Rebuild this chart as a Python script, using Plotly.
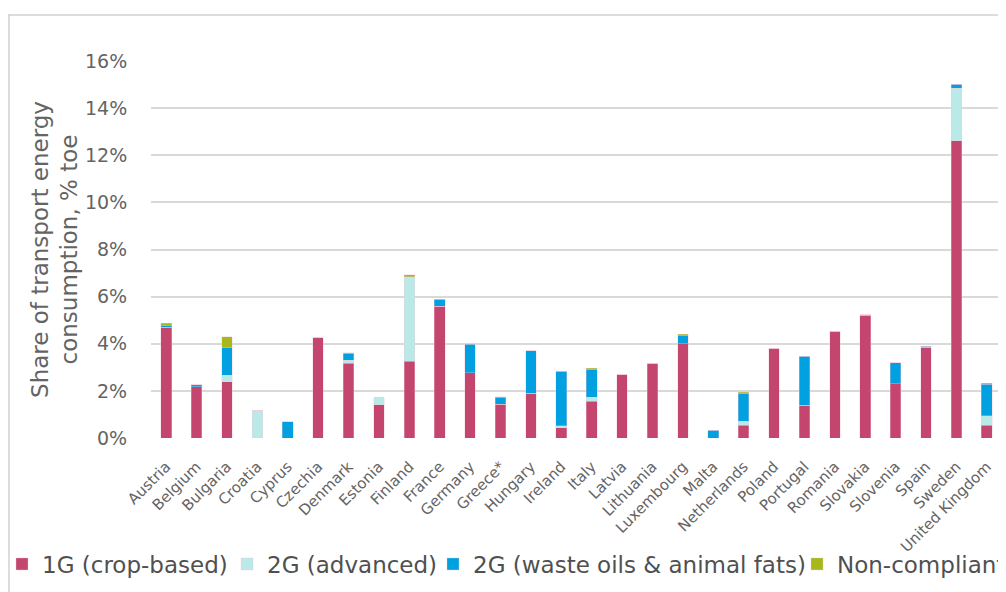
import plotly.graph_objects as go

countries = ["Austria", "Belgium", "Bulgaria", "Croatia", "Cyprus", "Czechia", "Denmark",
             "Estonia", "Finland", "France", "Germany", "Greece*", "Hungary", "Ireland",
             "Italy", "Latvia", "Lithuania", "Luxembourg", "Malta", "Netherlands", "Poland",
             "Portugal", "Romania", "Slovakia", "Slovenia", "Spain", "Sweden", "United Kingdom"]

first_gen = [4.71, 2.17, 2.38, 0.0, 0.0, 4.26, 3.18, 1.42, 3.26, 5.59, 2.78, 1.44, 1.91, 0.44,
             1.55, 2.69, 3.17, 3.99, 0.0, 0.54, 3.81, 1.40, 4.53, 5.20, 2.31, 3.85, 12.61, 0.55]
second_adv = [0.0, 0.0, 0.28, 1.15, 0.0, 0.0, 0.12, 0.28, 3.58, 0.0, 0.0, 0.0, 0.0, 0.09,
              0.17, 0.0, 0.0, 0.0, 0.0, 0.17, 0.0, 0.0, 0.0, 0.0, 0.0, 0.0, 2.23, 0.40]
second_waste = [0.08, 0.10, 1.16, 0.0, 0.68, 0.0, 0.28, 0.0, 0.0, 0.29, 1.19, 0.28, 1.80, 2.30,
                1.20, 0.0, 0.0, 0.37, 0.33, 1.20, 0.0, 2.06, 0.0, 0.04, 0.89, 0.04, 0.18, 1.34]
non_compliant = [0.08, 0.0, 0.48, 0.0, 0.0, 0.0, 0.04, 0.0, 0.08, 0.0, 0.04, 0.03, 0.0, 0.0,
                 0.04, 0.0, 0.0, 0.04, 0.0, 0.04, 0.0, 0.0, 0.0, 0.0, 0.0, 0.0, 0.0, 0.04]

series = [
    ("1G (crop-based)", first_gen, "#C4456E"),
    ("2G (advanced)", second_adv, "#B9EAE8"),
    ("2G (waste oils & animal fats)", second_waste, "#00A0E1"),
    ("Non-compliant", non_compliant, "#A7B81B"),
]

FONT = "DejaVu Sans"
GRAY = "#646464"

W, H = 998, 584
ML, MR, MT, MB = 143, 4, 53, 154
PW = W - ML - MR
PH = H - MT - MB

def px_to_paper_x(px):
    return (px - ML) / PW

def px_to_paper_y(py):
    return (H - MB - py) / PH

legend_left_px = [-6, 219, 425, 789]
legend_names = ["legend", "legend2", "legend3", "legend4"]

fig = go.Figure()
for (name, vals, color), lg in zip(series, legend_names):
    fig.add_trace(go.Bar(
        x=countries, y=vals, name=name, legend=lg,
        marker=dict(color=color, line=dict(color="rgba(240,200,215,0.6)", width=0.6)),
    ))

legend_common = dict(orientation="h", xanchor="left", yanchor="middle",
                     y=px_to_paper_y(556),
                     font=dict(family=FONT, size=23, color="#505050"),
                     itemwidth=30, bgcolor="rgba(0,0,0,0)", borderwidth=0)

layout_legends = {}
for lg, lx in zip(legend_names, legend_left_px):
    layout_legends[lg] = dict(legend_common, x=px_to_paper_x(lx))

fig.update_layout(
    width=W, height=H,
    barmode="stack", bargap=0.65,
    paper_bgcolor="white", plot_bgcolor="white",
    margin=dict(l=ML, r=MR, t=MT, b=MB, autoexpand=False),
    font=dict(family=FONT, color=GRAY),
    showlegend=True,
    **layout_legends,
)

fig.update_yaxes(
    range=[0, 16], dtick=2, ticksuffix="%",
    showgrid=True, gridcolor="#D9D9D9", gridwidth=1.5,
    zeroline=False, showline=False,
    ticks="outside", ticklen=19, tickcolor="rgba(0,0,0,0)",
    tickfont=dict(family=FONT, size=19, color=GRAY),
    title=dict(text="Share of transport energy<br>consumption, % toe",
               font=dict(family=FONT, size=23, color=GRAY), standoff=0),
    automargin=False,
)
fig.update_xaxes(
    tickangle=-45, showline=False, showgrid=False,
    tickfont=dict(family=FONT, size=15, color=GRAY),
    ticks="outside", ticklen=13, tickcolor="rgba(0,0,0,0)",
    automargin=False,
)

# frame border of the surrounding box
fig.add_shape(type="line", xref="paper", yref="paper",
              x0=px_to_paper_x(0), x1=px_to_paper_x(W + 5),
              y0=px_to_paper_y(7), y1=px_to_paper_y(7),
              line=dict(color="#D0D0D0", width=1.5))
fig.add_shape(type="line", xref="paper", yref="paper",
              x0=px_to_paper_x(1), x1=px_to_paper_x(1),
              y0=px_to_paper_y(7), y1=px_to_paper_y(H + 5),
              line=dict(color="#D0D0D0", width=1.5))

fig.write_html("out.html")
